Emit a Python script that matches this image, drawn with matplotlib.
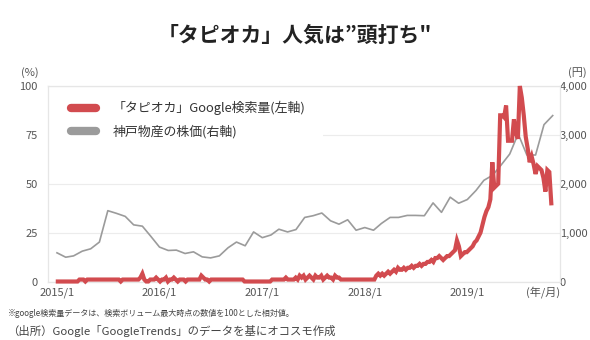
import matplotlib
matplotlib.use('Agg')
import matplotlib.pyplot as plt
from matplotlib.lines import Line2D
from matplotlib.patches import Rectangle
import pandas as pd

plt.rcParams['font.family'] = ['Noto Sans CJK JP', 'DejaVu Sans']

title = '「タピオカ」人気は”頭打ち"'
search_label = '「タピオカ」Google検索量(左軸)'
stock_label = '神戸物産の株価(右軸)'
note1 = '※google検索量データは、検索ボリューム最大時点の数値を100とした相対値。'
note2 = '（出所）Google「GoogleTrends」のデータを基にオコスモ作成'

# weekly Google Trends index (0-100), starting 2015-01-04
search_start = '2015-01-04'
search_2015 = [0, 0, 0, 0, 0, 0, 0, 0, 0, 0, 0, 1, 1, 1, 0, 1, 1, 1, 1, 1, 1, 1, 1, 1, 1,
               1, 1, 1, 1, 1, 1, 1, 0, 1, 1, 1, 1, 1, 1, 1, 1, 1, 2, 4, 1, 0, 0, 1, 1, 1, 2, 1]
search_2016 = [0, 1, 1, 2, 0, 1, 1, 2, 1, 0, 1, 1, 1, 0, 1, 1, 1, 1, 1, 1, 1, 3, 2, 1, 1, 0,
               1, 1, 1, 1, 1, 1, 1, 1, 1, 1, 1, 1, 1, 1, 1, 1, 1, 0, 0, 0, 0, 0, 0, 0, 0, 0]
search_2017 = [0, 0, 0, 0, 0, 1, 1, 1, 1, 1, 1, 1, 2, 1, 1, 1, 1, 2, 1, 3, 2, 3, 1, 2, 3, 2,
               1, 3, 2, 2, 3, 1, 2, 3, 2, 2, 1, 3, 2, 2, 1, 1, 1, 1, 1, 1, 1, 1, 1, 1, 1, 1]
search_2018 = [1, 1, 1, 1, 1, 1, 3, 4, 3, 4, 3, 4, 5, 4, 5, 6, 5, 7, 6, 6, 7, 6, 7, 7, 8, 7,
               8, 8, 9, 8, 9, 9, 10, 10, 11, 10, 12, 12, 13, 12, 11, 12, 13, 13, 14, 15, 16, 21, 18, 13, 14, 15]
search_2019 = [15, 16, 17, 18, 20, 21, 23, 25, 29, 33, 36, 38, 42, 61, 48, 49, 50, 85, 85, 84, 90, 72,
               72, 72, 83, 76, 73, 100, 94, 85, 74, 68, 61, 64, 60, 55, 59, 58, 57, 53, 46, 57, 56, 40]
search_values = search_2015 + search_2016 + search_2017 + search_2018 + search_2019

# monthly stock price of Kobe Bussan (yen), starting 2015-01
stock_start = '2015-01-01'
stock_values = [587, 497, 524, 621, 669, 807, 1449, 1394, 1332, 1159, 1132, 925,
                704, 635, 642, 573, 607, 504, 483, 524, 690, 807, 731, 1014,
                897, 952, 1070, 1014, 1063, 1311, 1346, 1401, 1242, 1173, 1263, 1049,
                1104, 1049, 1187, 1311, 1311, 1352, 1352, 1346, 1608, 1415, 1725, 1601,
                1677, 1863, 2070, 2174, 2381, 2608, 3022, 2588, 2588, 3209, 3395]

year_ticks = ['2015-01-01', '2016-01-01', '2017-01-01', '2018-01-01', '2019-01-01']
year_labels = ['2015/1', '2016/1', '2017/1', '2018/1', '2019/1']
left_ticks = [0, 25, 50, 75, 100]
left_labels = ['0', '25', '50', '75', '100']
right_ticks = [0, 1000, 2000, 3000, 4000]
right_labels = ['0', '1,000', '2,000', '3,000', '4,000']

search_dates = pd.date_range(search_start, periods=len(search_values), freq='7D')
stock_dates = pd.date_range(stock_start, periods=len(stock_values), freq='MS')

RED = '#d24b4f'
GRAY = '#9b9b9b'
GRID = '#ececec'
TXT = '#555555'

W, H = 590, 340
fig = plt.figure(figsize=(W / 100, H / 100), dpi=100)
x0, x1, ytop, ybot = 48, 560, 86, 281.5
ax = fig.add_axes([x0 / W, 1 - ybot / H, (x1 - x0) / W, (ybot - ytop) / H])
ax2 = ax.twinx()
ax.set_zorder(ax2.get_zorder() + 1)
ax.patch.set_visible(False)

xmin = pd.Timestamp('2014-11-30')
xmax = pd.Timestamp('2019-11-27')
ax.set_xlim(xmin, xmax)
ax.set_ylim(0, 100)
ax2.set_ylim(0, 4000)

# grid on the bottom axes
ax2.set_axisbelow(True)
ax2.grid(True, axis='both', color=GRID, linewidth=0.8)
ax2.set_xticks(pd.to_datetime(year_ticks))
ax2.set_yticks(right_ticks)
ax2.set_yticklabels(right_labels)
ax2.tick_params(axis='y', length=0, pad=0, labelsize=8, labelcolor=TXT)

# white box behind the legend
ax2.add_patch(Rectangle((0.002, (ybot - 147) / (ybot - ytop)), (322 - x0) / (x1 - x0),
                        (147 - 99) / (ybot - ytop), transform=ax2.transAxes,
                        facecolor='white', edgecolor='none', zorder=1))

ax2.plot(stock_dates, stock_values, color=GRAY, linewidth=1.2, zorder=3)
ax.plot(search_dates, search_values, color=RED, linewidth=3.0, zorder=3,
        solid_joinstyle='miter', clip_on=False)

ax.set_xticks(pd.to_datetime(year_ticks))
ax.set_xticklabels(year_labels)
ax.set_yticks(left_ticks)
ax.set_yticklabels(left_labels)
ax.tick_params(axis='x', length=0, pad=4.5, labelsize=8, labelcolor=TXT)
ax.tick_params(axis='y', length=0, pad=7.5, labelsize=8, labelcolor=TXT)

for a in (ax, ax2):
    for s in a.spines.values():
        s.set_color('#e6e6e6')
        s.set_linewidth(0.8)

handles = [Line2D([], [], color=RED, linewidth=6, solid_capstyle='round'),
           Line2D([], [], color=GRAY, linewidth=6, solid_capstyle='round')]
ax.legend(handles, [search_label, stock_label], loc='upper left',
          bbox_to_anchor=((71 - x0) / (x1 - x0), (ybot - 101) / (ybot - ytop)),
          frameon=False, fontsize=9.3, handlelength=1.95, handletextpad=1.3,
          labelspacing=0.75, borderpad=0, borderaxespad=0, labelcolor='#333333')

fig.text(0.5, 1 - 35 / H, title, ha='center', va='center', fontsize=15,
         fontweight='bold', color='#222222')
fig.text(30 / W, 1 - 72.5 / H, '(%)', ha='center', va='center', fontsize=8, color=TXT)
fig.text(577 / W, 1 - 72.5 / H, '(円)', ha='center', va='center', fontsize=8, color=TXT)
fig.text(560 / W, 1 - 292 / H, '(年/月)', ha='right', va='center', fontsize=8, color=TXT)
fig.text(8 / W, 1 - 313 / H, note1, ha='left', va='center', fontsize=5.8, color='#444444')
fig.text(7 / W, 1 - 331 / H, note2, ha='left', va='center', fontsize=8.2, color='#444444')

fig.savefig('out.png', dpi=100, facecolor='white')
